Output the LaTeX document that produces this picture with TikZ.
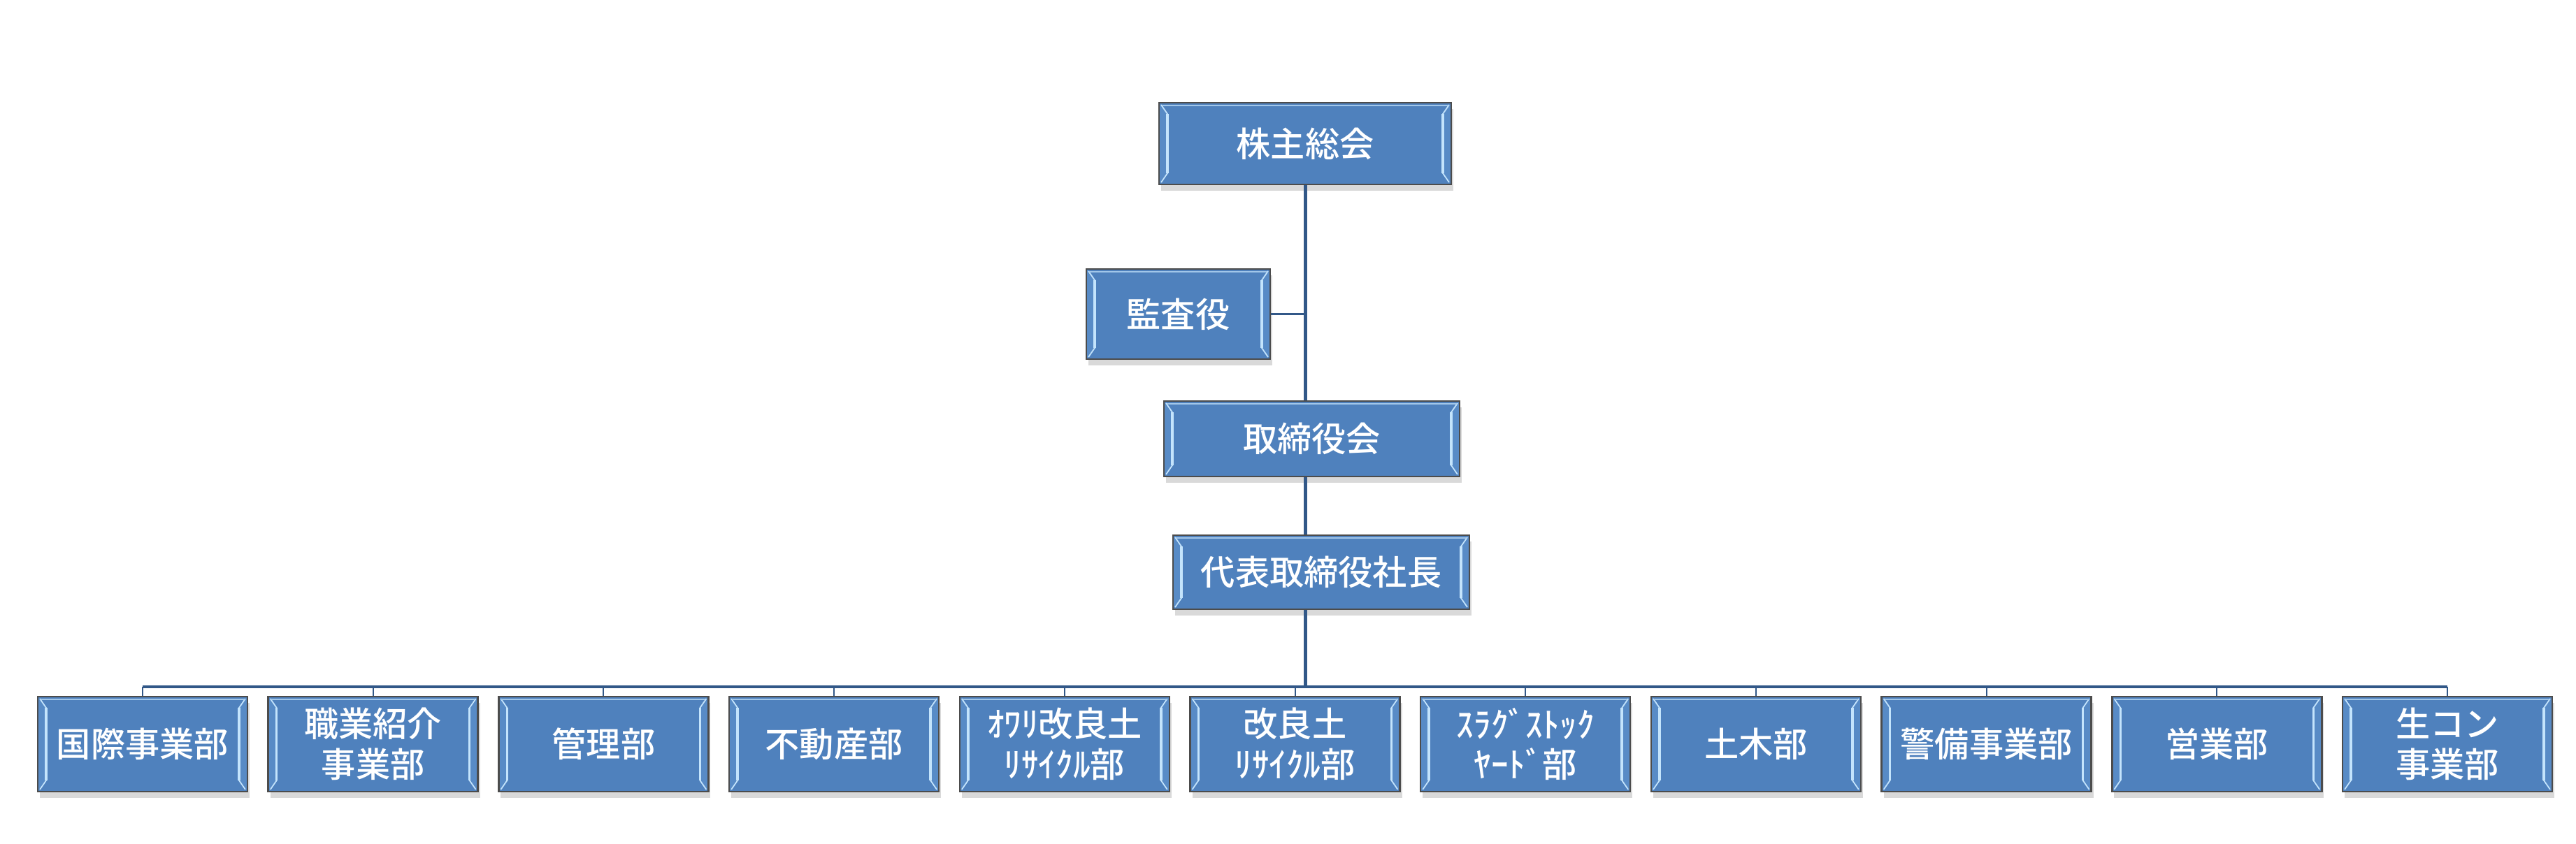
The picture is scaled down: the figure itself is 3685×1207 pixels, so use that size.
\documentclass[tikz,border=0pt]{standalone}
\usepackage{fontspec}
\newfontfamily\jpfont{Noto Sans CJK JP}[BoldFont={Noto Sans CJK JP Medium}]
\usepackage{tikz}
\usetikzlibrary{shadows}
\definecolor{boxblue}{RGB}{79,129,189}
\definecolor{bevelblue}{RGB}{88,139,198}
\definecolor{bevellight}{RGB}{196,228,252}
\definecolor{linkblue}{RGB}{50,88,136}
\tikzset{
	orgbox/.style={draw=black!70, line width=0.7pt, fill=boxblue, text=white,
		font=\jpfont\bfseries\fontsize{14}{16.5}\selectfont, align=center, inner sep=0pt,
		drop shadow={shadow xshift=0.3mm, shadow yshift=-0.9mm, fill=black, opacity=0.15},
		path picture={
			\fill[bevelblue] (path picture bounding box.north west) -- ([shift={(12,16)}]path picture bounding box.north west) -- ([shift={(12,-16)}]path picture bounding box.south west) -- (path picture bounding box.south west) -- cycle;
			\fill[bevelblue] (path picture bounding box.north east) -- ([shift={(-12,16)}]path picture bounding box.north east) -- ([shift={(-12,-16)}]path picture bounding box.south east) -- (path picture bounding box.south east) -- cycle;
			\draw[bevellight, line width=0.5pt] ([shift={(3,3)}]path picture bounding box.north west) -- ([shift={(12,16)}]path picture bounding box.north west) -- ([shift={(12,-16)}]path picture bounding box.south west) -- ([shift={(3,-3)}]path picture bounding box.south west);
			\draw[bevellight, line width=0.5pt] ([shift={(-3,3)}]path picture bounding box.north east) -- ([shift={(-12,16)}]path picture bounding box.north east) -- ([shift={(-12,-16)}]path picture bounding box.south east) -- ([shift={(-3,-3)}]path picture bounding box.south east);
			\draw[bevellight, line width=1pt] ([shift={(12,16)}]path picture bounding box.north west) -- ([shift={(12,-16)}]path picture bounding box.south west);
			\draw[bevellight, line width=1pt] ([shift={(-12,16)}]path picture bounding box.north east) -- ([shift={(-12,-16)}]path picture bounding box.south east);
			\draw[bevellight!70!boxblue, line width=0.4pt] ([shift={(4,4)}]path picture bounding box.north west) -- ([shift={(-4,4)}]path picture bounding box.north east);
		}},
	deptbox/.style={orgbox, minimum width=30mm, minimum height=13.6mm},
	spine/.style={linkblue, line width=0.5mm},
	bus/.style={linkblue, line width=0.35mm},
	drop/.style={linkblue, line width=0.2mm}
}
\begin{document}
\begin{tikzpicture}[line cap=butt, line join=miter, x=0.1mm, y=-0.1mm]
	\useasboundingbox (0,0) rectangle (3685,1207);
	% upper boxes
	\node[orgbox, minimum width=41.8mm, minimum height=11.7mm] (kabu) at (1867,205.5) {株主総会};
	\node[orgbox, minimum width=26.3mm, minimum height=12.9mm] (kansa) at (1685.5,449.5) {監査役};
	\node[orgbox, minimum width=42.3mm, minimum height=10.8mm] (tori) at (1876.5,628) {取締役会};
	\node[orgbox, minimum width=42.4mm, minimum height=10.6mm] (daihyo) at (1890,819) {代表取締役社長};
	% departments
	\foreach \lbl [count=\i from 0] in {国際事業部, {職業紹介\\事業部}, 管理部, 不動産部, {ｵﾜﾘ改良土\\ﾘｻｲｸﾙ部}, {改良土\\ﾘｻｲｸﾙ部}, {ｽﾗｸﾞｽﾄｯｸ\\ﾔｰﾄﾞ部}, 土木部, 警備事業部, 営業部, {生コン\\事業部}}
	\node[deptbox] (d\i) at ({204+329.7*\i},1065) {\lbl};
	% connectors
	\coordinate (bus) at (1867,983);
	\draw[spine] (kabu.south) -- (kabu.south |- tori.north);
	\draw[spine] (kabu.south |- tori.south) -- (kabu.south |- daihyo.north);
	\draw[spine] (kabu.south |- daihyo.south) -- (bus);
	\draw[bus] (kansa.east) -- (kansa.east -| kabu.south);
	\draw[bus] (d0.north |- bus) -- (d10.north |- bus);
	\foreach \i in {0,...,10}
	\draw[drop] (d\i.north) -- (d\i.north |- bus);
\end{tikzpicture}
\end{document}
